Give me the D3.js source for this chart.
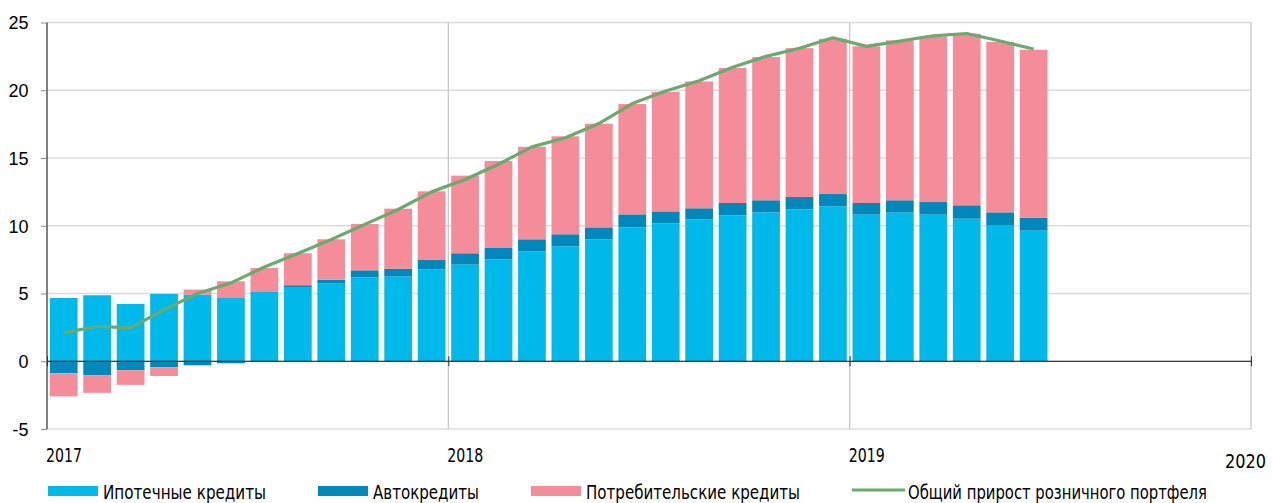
<!DOCTYPE html>
<html>
<head>
<meta charset="utf-8">
<script src="https://cdn.jsdelivr.net/npm/d3@7"></script>
<style>
  body { margin: 0; background: #fff; }
  .narrow { font-family: "Liberation Sans Narrow", "DejaVu Sans Condensed", "Roboto", sans-serif; }
  .ylab { font-family: "Liberation Sans", Arial, sans-serif; font-size: 18px; fill: #000; }
</style>
</head>
<body>
<div class="diagram"></div>
<script>
// months Jan 2017 .. Jun 2019
const months = ["2017-01","2017-02","2017-03","2017-04","2017-05","2017-06","2017-07","2017-08","2017-09","2017-10","2017-11","2017-12",
                "2018-01","2018-02","2018-03","2018-04","2018-05","2018-06","2018-07","2018-08","2018-09","2018-10","2018-11","2018-12",
                "2019-01","2019-02","2019-03","2019-04","2019-05","2019-06"];
const mortgage = [4.67, 4.87, 4.23, 4.97, 4.92, 4.67, 5.16, 5.48, 5.73, 6.20, 6.25, 6.79,
                  7.13, 7.52, 8.11, 8.48, 9.00, 9.88, 10.18, 10.47, 10.77, 10.99, 11.21, 11.43,
                  10.82, 10.97, 10.82, 10.52, 10.01, 9.64];
const auto = [-0.89, -1.03, -0.66, -0.45, -0.30, -0.15, 0.00, 0.13, 0.29, 0.51, 0.59, 0.68,
              0.84, 0.84, 0.89, 0.89, 0.88, 0.96, 0.88, 0.82, 0.91, 0.89, 0.91, 0.91,
              0.86, 0.91, 0.93, 0.99, 0.98, 0.96];
const consumer = [-1.70, -1.30, -1.08, -0.64, 0.37, 1.23, 1.72, 2.36, 2.98, 3.42, 4.42, 5.07,
                  5.73, 6.42, 6.83, 7.23, 7.65, 8.14, 8.83, 9.36, 9.96, 10.57, 10.99, 11.46,
                  11.56, 11.80, 12.22, 12.66, 12.57, 12.39];
const total = [2.09, 2.58, 2.46, 3.80, 5.00, 5.78, 6.96, 7.95, 8.98, 10.10, 11.20, 12.50,
               13.41, 14.54, 15.82, 16.50, 17.54, 19.02, 19.95, 20.70, 21.70, 22.50, 23.10, 23.87,
               23.24, 23.63, 24.02, 24.19, 23.63, 23.04];
const years = ["2017", "2018", "2019", "2020"];
const yTicks = [-5, 0, 5, 10, 15, 20, 25];
const seriesNames = ["Ипотечные кредиты", "Автокредиты", "Потребительские кредиты", "Общий прирост розничного портфеля"];
const colors = ["#00b9eb", "#0088ba", "#f48c99", "#6aaa6e"];

const w = 1273,
      h = 503,
      pLeft = 47,
      pRight = 1251,
      pTop = 22.5,
      pBottom = 429,
      svg = d3.select(".diagram")
      .append("svg")
      .attr("width", w)
      .attr("height", h);

// 36 month slots, 2017-01 .. 2019-12
const slots = d3.range(36);
const xScale = d3.scaleBand()
  .domain(slots)
  .range([pLeft, pRight])
  .paddingInner(0.17)
  .paddingOuter(0.085);
const xYear = d3.scaleLinear()
  .domain([0, 3])
  .range([pLeft, pRight]);
const yScale = d3.scaleLinear()
  .domain([-5, 25])
  .range([pBottom, pTop]);

// grid
svg.append("g")
  .selectAll("line")
  .data(yTicks.filter((d) => d !== 0))
  .enter()
  .append("line")
  .attr("x1", pLeft)
  .attr("x2", pRight)
  .attr("y1", (d) => yScale(d))
  .attr("y2", (d) => yScale(d))
  .attr("stroke", "#dcdcdc")
  .attr("stroke-width", 1.3);
svg.append("g")
  .selectAll("line")
  .data([1, 2, 3])
  .enter()
  .append("line")
  .attr("x1", (d) => xYear(d))
  .attr("x2", (d) => xYear(d))
  .attr("y1", pTop)
  .attr("y2", pBottom)
  .attr("stroke", "#c8c8c8")
  .attr("stroke-width", 1.3);

// stacked bars
const table = months.map((m, i) => ({ i: i, mortgage: mortgage[i], auto: auto[i], consumer: consumer[i] }));
const stack = d3.stack()
  .keys(["mortgage", "auto", "consumer"])
  .offset(d3.stackOffsetDiverging);
const layers = stack(table);
svg.append("g")
  .selectAll("g")
  .data(layers)
  .enter()
  .append("g")
  .attr("fill", (d, k) => colors[k])
  .selectAll("rect")
  .data((d) => d)
  .enter()
  .append("rect")
  .attr("x", (d) => xScale(d.data.i))
  .attr("width", xScale.bandwidth())
  .attr("y", (d) => yScale(Math.max(d[0], d[1])))
  .attr("height", (d) => Math.abs(yScale(d[0]) - yScale(d[1])));

// y axis
const yAxis = d3.axisLeft(yScale)
  .tickValues(yTicks)
  .tickSize(6)
  .tickFormat((d) => String(d));
const gy = svg.append("g")
  .attr("transform", "translate(" + pLeft + ",0)")
  .call(yAxis);
gy.select(".domain").attr("stroke", "#000").attr("d", "M0," + pTop + "V" + pBottom);
gy.selectAll(".tick line").attr("stroke", "#888");
gy.selectAll(".tick text")
  .attr("class", "ylab")
  .attr("x", -18.5)
  .attr("dy", "0.36em");

// zero line with year ticks
const xAxis = d3.axisBottom(xYear)
  .tickValues([0, 1, 2, 3])
  .tickSize(5)
  .tickFormat("");
const gx = svg.append("g")
  .attr("transform", "translate(0," + yScale(0) + ")")
  .call(xAxis);
gx.select(".domain").attr("stroke", "#000").attr("d", "M" + pLeft + ",0H" + pRight);
gx.selectAll(".tick line").attr("stroke", "#333").attr("y1", -5);

// total line
const line = d3.line()
  .x((d, i) => xScale(i) + xScale.bandwidth() / 2)
  .y((d) => yScale(d));
svg.append("path")
  .datum(total)
  .attr("d", line)
  .attr("fill", "none")
  .attr("stroke", colors[3])
  .attr("stroke-width", 3.2)
  .attr("stroke-linejoin", "round");

// year labels (narrow face squeezed to the original widths)
svg.append("g")
  .selectAll("text")
  .data(years)
  .enter()
  .append("text")
  .attr("class", "narrow")
  .attr("font-size", 20)
  .attr("x", (d, i) => i < 3 ? xYear(i) - 1 : w - 7)
  .attr("y", (d, i) => i < 3 ? 462 : 468)
  .attr("text-anchor", (d, i) => i < 3 ? "start" : "end")
  .attr("textLength", (d, i) => i < 3 ? 36 : 41)
  .attr("lengthAdjust", "spacingAndGlyphs")
  .text((d) => d);

// legend
const legendX = [48, 318, 531, 852];
const legendLen = [163, 106, 214, 299];
const lg = svg.append("g")
  .selectAll("g")
  .data(seriesNames)
  .enter()
  .append("g")
  .attr("transform", (d, i) => "translate(" + legendX[i] + ",0)");
lg.filter((d, i) => i < 3)
  .append("rect")
  .attr("y", 486)
  .attr("width", 50)
  .attr("height", 10)
  .attr("fill", (d, i) => colors[i]);
lg.filter((d, i) => i === 3)
  .append("line")
  .attr("x1", 0)
  .attr("x2", 53)
  .attr("y1", 490)
  .attr("y2", 490)
  .attr("stroke", colors[3])
  .attr("stroke-width", 3);
lg.append("text")
  .attr("class", "narrow")
  .attr("font-size", 20)
  .attr("x", (d, i) => i < 3 ? 55 : 56)
  .attr("y", 499)
  .attr("textLength", (d, i) => legendLen[i])
  .attr("lengthAdjust", "spacingAndGlyphs")
  .text((d) => d);
</script>
</body>
</html>
